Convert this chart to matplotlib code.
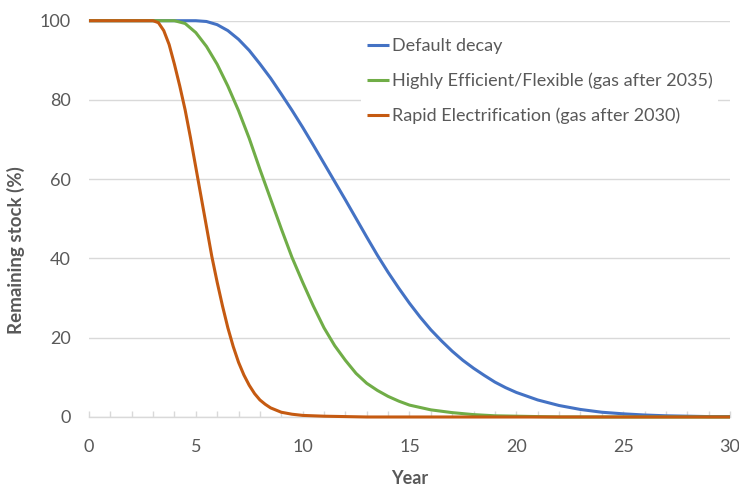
import matplotlib.pyplot as plt

# Default decay
default_years = [0, 1, 2, 3, 4, 5, 5.5, 6, 6.5, 7, 7.5, 8, 8.5, 9, 9.5, 10, 10.5, 11, 11.5,
                 12, 12.5, 13, 13.5, 14, 14.5, 15, 15.5, 16, 16.5, 17, 17.5, 18, 18.5,
                 19, 19.5, 20, 21, 22, 23, 24, 25, 26, 27, 28, 29, 30]
default_stock = [100, 100, 100, 100, 100, 100, 99.8, 99, 97.5, 95.3, 92.5, 89.1, 85.5, 81.5,
                 77.4, 73.1, 68.6, 64, 59.4, 54.8, 50.1, 45.4, 40.8, 36.5, 32.5, 28.7, 25.2,
                 22, 19.2, 16.6, 14.3, 12.3, 10.5, 8.8, 7.4, 6.2, 4.3, 2.9, 1.9, 1.2, 0.8,
                 0.5, 0.3, 0.2, 0.1, 0.1]

# Highly Efficient/Flexible (gas after 2035)
efficient_years = [0, 1, 2, 3, 4, 4.5, 5, 5.5, 6, 6.5, 7, 7.5, 8, 8.5, 9, 9.5, 10, 10.5,
                   11, 11.5, 12, 12.5, 13, 13.5, 14, 14.5, 15, 16, 17, 18, 19, 20, 21,
                   22, 25, 30]
efficient_stock = [100, 100, 100, 100, 100, 99.3, 97, 93.5, 89, 83.5, 77.3, 70.3, 62.5, 55,
                   47.5, 40.3, 34, 28, 22.5, 18, 14.3, 11, 8.5, 6.7, 5.2, 4, 3, 1.8, 1.1,
                   0.6, 0.3, 0.2, 0.1, 0, 0, 0]

# Rapid Electrification (gas after 2030)
rapid_years = [0, 1, 2, 3, 3.25, 3.5, 3.75, 4, 4.25, 4.5, 4.75, 5, 5.25, 5.5, 5.75, 6,
               6.25, 6.5, 6.75, 7, 7.25, 7.5, 7.75, 8, 8.25, 8.5, 9, 9.5, 10, 11, 12, 13,
               20, 30]
rapid_stock = [100, 100, 100, 100, 99.5, 97.5, 94, 89, 83.5, 77.5, 70.5, 63, 55.5, 48, 40.5,
               34, 28, 22.5, 17.8, 13.8, 10.6, 8, 5.9, 4.3, 3.2, 2.3, 1.2, 0.7, 0.4, 0.2,
               0.1, 0, 0, 0]

labels = ["Default decay",
          "Highly Efficient/Flexible (gas after 2035)",
          "Rapid Electrification (gas after 2030)"]
colors = ["#4472C4", "#70AD47", "#C55A11"]

text_gray = "#595959"
grid_gray = "#D9D9D9"

plt.rcParams["font.family"] = ["Lato", "DejaVu Sans"]

fig = plt.figure(figsize=(7.39, 4.86), dpi=100)
ax = fig.add_axes([0.1204, 0.142, 0.8674, 0.8154])

series = [(default_years, default_stock), (efficient_years, efficient_stock),
          (rapid_years, rapid_stock)]
for (xs, ys), lab, col in zip(series, labels, colors):
    ax.plot(xs, ys, color=col, lw=2.2, label=lab, clip_on=False,
            solid_capstyle="butt", solid_joinstyle="round", zorder=3)

ax.set_xlim(0, 30)
ax.set_ylim(0, 100)
ax.set_xticks(range(0, 31, 5))
ax.set_xticks(range(0, 31), minor=True)
ax.set_yticks(range(0, 101, 20))

ax.grid(axis="y", color=grid_gray, lw=1)
ax.set_axisbelow(True)
for side in ["top", "right", "left"]:
    ax.spines[side].set_visible(False)
ax.spines["bottom"].set_color(grid_gray)
ax.spines["bottom"].set_linewidth(1)

ax.tick_params(axis="y", length=0, pad=13, labelsize=13, labelcolor=text_gray)
ax.tick_params(axis="x", which="both", direction="in", length=4.5, width=1,
               color=grid_gray, pad=16, labelsize=13, labelcolor=text_gray)
ax.tick_params(axis="x", which="minor", labelbottom=False)

ax.set_xlabel("Year", fontsize=13, fontweight="bold", color=text_gray, labelpad=11)
ax.set_ylabel("Remaining stock (%)", fontsize=13.5, fontweight="bold", color=text_gray)
ax.yaxis.set_label_coords(-0.1, 0.42)

leg = ax.legend(loc="upper left", bbox_to_anchor=(0.425, 0.97), frameon=True,
                fontsize=13, handlelength=1.25, handletextpad=0.15, labelspacing=1.03,
                borderpad=0.3, borderaxespad=0)
leg.get_frame().set_facecolor("white")
leg.get_frame().set_edgecolor("none")
leg.get_frame().set_alpha(1)
for t in leg.get_texts():
    t.set_color(text_gray)

plt.savefig("out.png", dpi=100)
